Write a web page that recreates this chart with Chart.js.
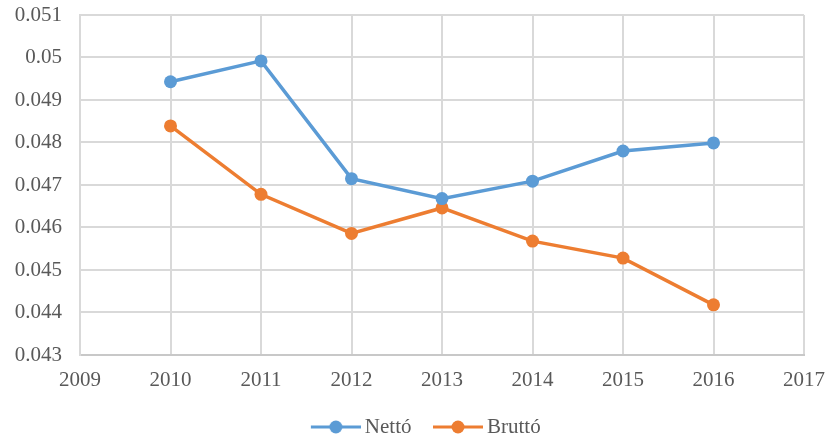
<!DOCTYPE html>
<html>
<head>
<meta charset="utf-8">
<script src="https://cdn.jsdelivr.net/npm/chart.js@4.4.1/dist/chart.umd.min.js"></script>
<style>
  html, body { margin: 0; padding: 0; background: #ffffff; }
  #wrap { width: 830px; height: 441px; }
</style>
</head>
<body>
<div id="wrap"><canvas id="c" width="830" height="441"></canvas></div>
<script>
const years = [2010, 2011, 2012, 2013, 2014, 2015, 2016];
const netto = [0.04943, 0.04992, 0.04715, 0.04668, 0.04709, 0.04780, 0.04799];
const brutto = [0.04839, 0.04678, 0.04586, 0.04646, 0.04568, 0.04528, 0.04418];
const seriesNames = ['Nettó', 'Bruttó'];
const seriesColors = ['#5B9BD5', '#ED7D31'];
const xMin = 2009, xMax = 2017;
const yMin = 0.043, yMax = 0.051, yStep = 0.001;

const FONT = "'Liberation Serif', 'Times New Roman', serif";
const TEXT = '#595959';

function legendIcon(color) {
  const cv = document.createElement('canvas');
  cv.width = 68; cv.height = 14;
  const g = cv.getContext('2d');
  g.strokeStyle = color; g.lineWidth = 3;
  g.beginPath(); g.moveTo(18, 7); g.lineTo(68, 7); g.stroke();
  g.fillStyle = color;
  g.beginPath(); g.arc(43, 7, 6.5, 0, Math.PI * 2); g.fill();
  return cv;
}
const icons = seriesColors.map(legendIcon);

function toPoints(vals) { return years.map((y, i) => ({ x: y, y: vals[i] })); }

const datasets = [netto, brutto].map((vals, i) => ({
  label: seriesNames[i],
  data: toPoints(vals),
  borderColor: seriesColors[i],
  backgroundColor: seriesColors[i],
  borderWidth: 3.5,
  pointRadius: 6.5,
  pointHoverRadius: 6.5,
  pointBorderWidth: 0,
  pointHoverBorderWidth: 0,
  pointBackgroundColor: seriesColors[i],
  tension: 0,
  fill: false
}));

const legendShift = {
  id: 'legendShift',
  afterLayout(chart) {
    const lg = chart.legend;
    if (!lg) return;
    lg.left = 36;
    lg.top += 6.5;
    lg.bottom += 6.5;
  }
};

new Chart(document.getElementById('c'), {
  type: 'line',
  data: { datasets },
  plugins: [legendShift],
  options: {
    responsive: false,
    animation: false,
    layout: { autoPadding: false, padding: { left: 0, right: 26, top: 15, bottom: 0 } },
    plugins: {
      tooltip: { enabled: false },
      legend: {
        position: 'bottom',
        labels: {
          usePointStyle: true,
          pointStyleWidth: 55,
          padding: 10,
          color: TEXT,
          font: { family: FONT, size: 21 },
          generateLabels: (chart) => chart.data.datasets.map((d, i) => ({
            text: d.label,
            pointStyle: icons[i],
            fillStyle: d.borderColor,
            strokeStyle: d.borderColor,
            lineWidth: 0,
            fontColor: TEXT,
            hidden: false,
            datasetIndex: i
          }))
        }
      }
    },
    scales: {
      x: {
        type: 'linear',
        min: xMin, max: xMax,
        afterFit: (s) => { s.height = 45; s.paddingLeft = 0; s.paddingRight = 0; },
        ticks: {
          stepSize: 1,
          padding: 13,
          color: TEXT,
          font: { family: FONT, size: 21 },
          callback: (v) => String(v)
        },
        grid: { color: '#d9d9d9', lineWidth: 2, drawTicks: false },
        border: { color: '#c8c8c8', width: 2 }
      },
      y: {
        type: 'linear',
        min: yMin, max: yMax,
        afterFit: (s) => { s.width = 80; s.paddingTop = 0; s.paddingBottom = 0; },
        ticks: {
          stepSize: yStep,
          padding: 18,
          color: TEXT,
          font: { family: FONT, size: 21 },
          callback: (v) => String(+Number(v).toFixed(3))
        },
        grid: { color: '#d9d9d9', lineWidth: 2, drawTicks: false },
        border: { color: '#d9d9d9', width: 2 }
      }
    }
  }
});
</script>
</body>
</html>
